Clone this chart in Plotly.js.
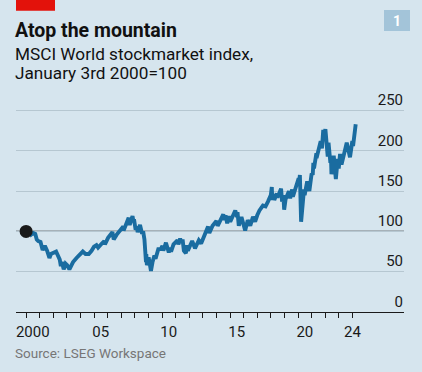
<!DOCTYPE html>
<html>
<head>
<meta charset="utf-8">
<script src="https://cdn.plot.ly/plotly-3.0.1.min.js"></script>
<style>
  html, body { margin: 0; padding: 0; background: #d6e5ee; }
  #chart { width: 422px; height: 372px; }
</style>
</head>
<body>
<div id="chart"></div>
<script>
// ---- Data ----
var dates = [
  "2000-01-03","2000-03-24","2000-05-20","2000-07-15","2000-09-05","2000-10-15","2000-11-25",
  "2001-01-25","2001-03-22","2001-05-21","2001-07-20","2001-09-21","2001-10-30",
  "2002-01-04","2002-03-19","2002-06-25","2002-07-24","2002-08-22","2002-10-09","2002-11-27",
  "2003-01-10","2003-03-11","2003-04-25","2003-06-17","2003-09-18","2003-12-31",
  "2004-03-05","2004-05-17","2004-08-12","2004-10-25","2004-12-31",
  "2005-03-07","2005-04-20","2005-07-29","2005-10-03","2005-10-20",
  "2006-01-12","2006-05-09","2006-06-13","2006-09-01","2006-12-31",
  "2007-02-26","2007-03-05","2007-06-01","2007-07-19","2007-08-16","2007-10-31","2007-11-26","2007-12-10",
  "2008-01-22","2008-02-27","2008-03-17","2008-05-19","2008-07-15","2008-08-11","2008-09-15","2008-10-10","2008-10-27","2008-11-04","2008-11-20",
  "2009-01-06","2009-03-09","2009-04-20","2009-06-10","2009-07-10","2009-09-22","2009-11-27",
  "2010-01-11","2010-02-05","2010-04-15","2010-07-01","2010-08-09","2010-08-31","2010-11-05",
  "2011-02-18","2011-03-16","2011-05-02","2011-06-16","2011-07-07","2011-08-10","2011-10-04","2011-10-27","2011-11-25",
  "2012-03-19","2012-06-04","2012-09-14","2012-11-15",
  "2013-01-25","2013-05-21","2013-06-24","2013-09-18","2013-12-31",
  "2014-02-03","2014-07-03","2014-08-07","2014-09-03","2014-10-16","2014-12-05",
  "2015-01-06","2015-05-21","2015-07-08","2015-07-20","2015-08-24","2015-11-03",
  "2016-01-20","2016-02-11","2016-04-20","2016-06-27","2016-09-07","2016-11-04","2016-12-31",
  "2017-03-01","2017-06-02","2017-08-11","2017-10-15","2017-12-31",
  "2018-01-26","2018-02-08","2018-03-12","2018-04-03","2018-06-06","2018-06-28","2018-10-02","2018-10-29","2018-12-03","2018-12-24",
  "2019-01-31","2019-04-30","2019-06-03","2019-07-26","2019-08-15","2019-11-29",
  "2020-01-17","2020-01-31","2020-02-19","2020-03-23","2020-04-29","2020-06-08","2020-06-26","2020-09-02","2020-10-30","2020-12-31",
  "2021-01-29","2021-02-15","2021-03-04","2021-05-07","2021-05-12","2021-08-31","2021-10-04","2021-11-08","2021-11-30",
  "2022-01-04","2022-01-27","2022-02-09","2022-03-08","2022-03-29","2022-05-19","2022-06-02","2022-06-16","2022-08-16","2022-09-30","2022-10-12","2022-12-01","2022-12-28",
  "2023-02-02","2023-03-13","2023-06-30","2023-07-31","2023-10-27","2023-12-28",
  "2024-01-17","2024-03-28"
];
var indexValues = [
  100,101,96,98,97,90,88,
  87,77,82,76,67,72,
  74,75,65,57,62,53,60,
  58,53,58,62,67,72,
  75,72,72,76,81,
  83,80,85,88,84,
  92,99,90,96,104,
  106,101,113,117,108,119,112,115,
  102,106,99,108,97,100,90,70,62,72,58,
  68,51,62,70,66,78,78,
  82,76,86,74,80,75,84,
  89,84,91,86,90,76,73,83,76,
  88,79,89,85,
  94,106,98,107,113,
  107,121,114,120,110,119,
  112,126,118,124,107,118,
  102,101,114,107,118,112,120,
  126,132,131,137,145,
  155,139,146,139,147,142,153,137,145,127,
  140,150,141,152,143,157,
  166,160,170,112,138,152,145,162,150,172,
  170,185,178,197,191,212,203,226,216,
  227,207,214,193,210,185,193,171,194,166,165,190,178,
  196,183,204,210,192,212,
  206,233
];
var baseDate = ["2000-01-03"];
var baseValue = [100];

var yearTicks = [];
for (var yr = 2000; yr <= 2024; yr++) { yearTicks.push(yr + "-01-01"); }
var labelDates = ["2000-07-01","2005-07-01","2010-07-01","2015-07-01","2020-07-01","2024-01-01"];
var labelText = ["2000","05","10","15","20","24"];
var yTickVals = [0,50,100,150,200,250];
var yTickText = ["0","50","100","150","200","250"];
var xRange = ["1999-04-07","2027-10-16"];
var yRange = [0, 285.4];

var FONT = "Roboto, 'Noto Sans', sans-serif";
var BG = "#d6e5ee";
var PH = 230; // plot height in px, used to place decorations in paper units
function py(v) { return (312 - v) / PH; }

var traces = [
  {
    x: dates, y: indexValues, type: "scatter", mode: "lines",
    line: {color: "#1a6ca0", width: 3.9},
    hoverinfo: "skip", showlegend: false
  },
  {
    x: baseDate, y: baseValue, type: "scatter", mode: "markers",
    marker: {color: "#1a1a1a", size: 13},
    hoverinfo: "skip", showlegend: false
  },
  {
    x: labelDates, y: labelDates.map(function(){return null;}), xaxis: "x2", yaxis: "y",
    type: "scatter", mode: "markers", hoverinfo: "skip", showlegend: false
  }
];

var layout = {
  width: 422, height: 372,
  paper_bgcolor: BG, plot_bgcolor: BG,
  margin: {l: 16, r: 18, t: 82, b: 60},
  font: {family: FONT, color: "#1a1a1a"},
  showlegend: false,
  title: {
    text: "<b>Atop the mountain</b>",
    font: {family: FONT, size: 19.5, color: "#111111"},
    x: 15/422, xref: "container", xanchor: "left",
    y: 1 - 30.5/372, yref: "container", yanchor: "middle"
  },
  xaxis: {
    type: "date", range: xRange,
    tickmode: "array", tickvals: yearTicks, showticklabels: false,
    ticks: "outside", ticklen: 5, tickwidth: 1, tickcolor: "#1a1a1a",
    showgrid: false, zeroline: false,
    showline: true, linecolor: "#1a1a1a", linewidth: 1.3,
    fixedrange: true
  },
  xaxis2: {
    type: "date", range: xRange, overlaying: "x", anchor: "y", side: "bottom",
    tickmode: "array", tickvals: labelDates, ticktext: labelText,
    ticks: "", showgrid: false, zeroline: false, showline: false,
    tickfont: {family: FONT, size: 15, color: "#1a1a1a"},
    ticklabelstandoff: 9,
    fixedrange: true
  },
  yaxis: {
    range: yRange, side: "right",
    tickmode: "array", tickvals: yTickVals, ticktext: yTickText,
    ticklabelposition: "inside top", ticks: "",
    ticklabelstandoff: -2,
    tickfont: {family: FONT, size: 15, color: "#1a1a1a"},
    showgrid: true, gridcolor: "#b6c7d1", gridwidth: 1.2,
    zeroline: false, showline: false,
    fixedrange: true
  },
  shapes: [
    {type: "line", xref: "paper", yref: "y", x0: 0, x1: 1, y0: 100, y1: 100,
     line: {color: "#1a1a1a", width: 1.4}, layer: "between"},
    {type: "rect", xref: "paper", yref: "paper", x0: 0, x1: 39/388, y0: py(10.7), y1: py(-5),
     fillcolor: "#e3120b", line: {width: 0}},
    {type: "rect", xref: "paper", yref: "paper", x0: 368/388, x1: 394/388, y0: py(31), y1: py(10),
     fillcolor: "#a3c4d9", line: {width: 0}}
  ],
  annotations: [
    {text: "MSCI World stockmarket index,", xref: "paper", yref: "paper",
     x: -3/388, xanchor: "left", y: py(54), yanchor: "middle", showarrow: false,
     font: {family: FONT, size: 17.2, color: "#111111"}},
    {text: "January 3rd 2000=100", xref: "paper", yref: "paper",
     x: -3/388, xanchor: "left", y: py(73), yanchor: "middle", showarrow: false,
     font: {family: FONT, size: 17.2, color: "#111111"}},
    {text: "Source: LSEG Workspace", xref: "paper", yref: "paper",
     x: -3/388, xanchor: "left", y: py(353), yanchor: "middle", showarrow: false,
     font: {family: FONT, size: 13.5, color: "#767676"}},
    {text: "<b>1</b>", xref: "paper", yref: "paper",
     x: (397-16)/388, xanchor: "center", y: py(20.5), yanchor: "middle", showarrow: false,
     font: {family: FONT, size: 14, color: "#ffffff"}}
  ]
};

Plotly.newPlot("chart", traces, layout, {displayModeBar: false, staticPlot: true});
</script>
</body>
</html>
